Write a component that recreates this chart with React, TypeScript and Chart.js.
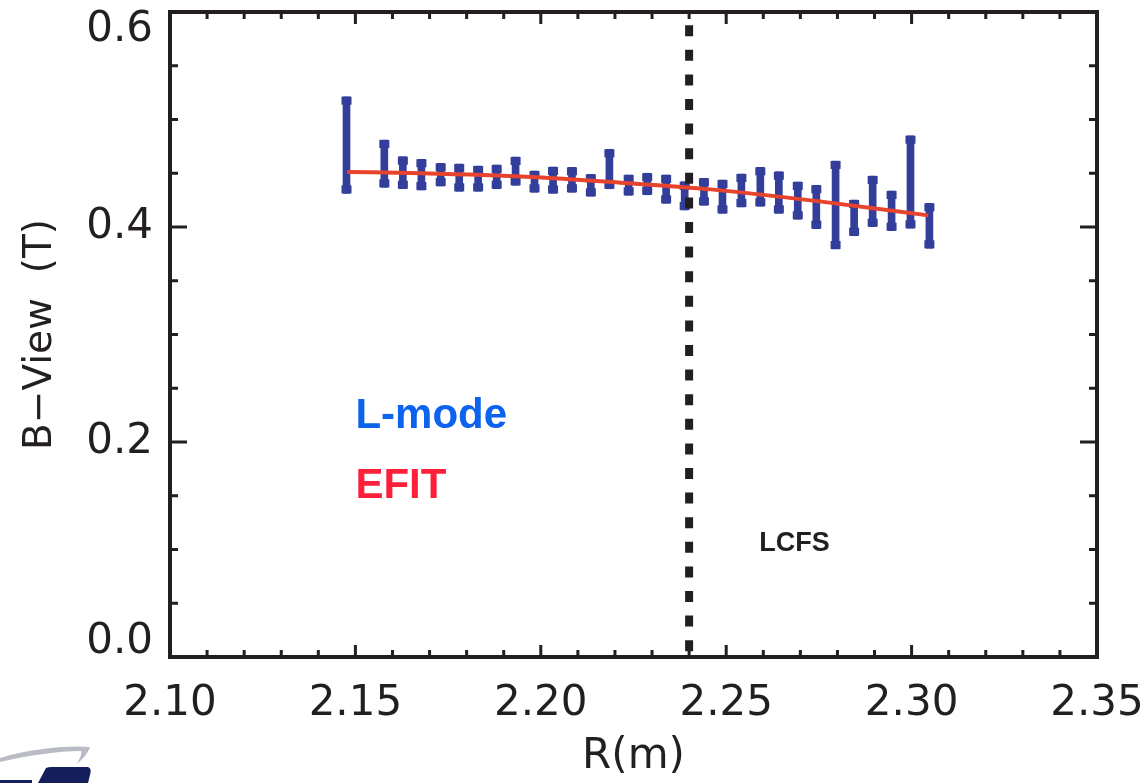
import React, { useEffect, useRef } from 'react';
import { Chart, registerables } from 'chart.js';

Chart.register(...registerables);

// ---- data ----
const radius = [2.1476, 2.1578, 2.1628, 2.1678, 2.173, 2.178, 2.1831, 2.1881, 2.1932, 2.1983, 2.2033, 2.2084, 2.2135, 2.2185, 2.2237, 2.2287, 2.2338, 2.2388, 2.244, 2.249, 2.2541, 2.2592, 2.2642, 2.2693, 2.2743, 2.2795, 2.2845, 2.2895, 2.2946, 2.2997, 2.3048];
const bLow = [0.4313, 0.4369, 0.4356, 0.4344, 0.4381, 0.4332, 0.4332, 0.4356, 0.4388, 0.4323, 0.4313, 0.4323, 0.4286, 0.4356, 0.4295, 0.43, 0.422, 0.4158, 0.4202, 0.4127, 0.4186, 0.4193, 0.4127, 0.4072, 0.3984, 0.3795, 0.3919, 0.4003, 0.3966, 0.3988, 0.3802];
const bHigh = [0.5212, 0.4809, 0.4654, 0.463, 0.4592, 0.4586, 0.4567, 0.4577, 0.4651, 0.4521, 0.4558, 0.4555, 0.449, 0.4723, 0.4484, 0.45, 0.4484, 0.4421, 0.4453, 0.4437, 0.4493, 0.4555, 0.4514, 0.4419, 0.4388, 0.4614, 0.4251, 0.4474, 0.4335, 0.4849, 0.422];

const efitR = [2.1478, 2.1678, 2.1973, 2.2216, 2.2459, 2.2757, 2.3045];
const efitB = [0.4512, 0.45, 0.4465, 0.4412, 0.435, 0.4236, 0.4108];

const lcfsR = 2.24;

const xTickMin = 2.1;
const xTickMax = 2.35;
const xTickStep = 0.05;
const yTickMin = 0;
const yTickMax = 0.6;
const yTickStep = 0.2;

const xTitle = 'R(m)';
const yTitle = 'B\u2212View  (T)';

const notes = [
  { text: 'L-mode', r: 2.15, b: 0.2235, color: '#0c63ee', font: "bold 42px 'Liberation Sans', Arial, sans-serif" },
  { text: 'EFIT', r: 2.15, b: 0.1584, color: '#fe1f3a', font: "bold 42px 'Liberation Sans', Arial, sans-serif" },
  { text: 'LCFS', r: 2.2589, b: 0.106, color: '#231f20', font: "bold 27px 'Liberation Sans', Arial, sans-serif" },
];

const INK = '#231f20';
const NAVY = '#333e9a';
const RED = '#e8432c';
const FAMILY = "'DejaVu Sans', sans-serif";

const framePlugin = {
  id: 'idlFrame',
  afterDatasetDraw(chart: any, args: any) {
    if (args.index !== 0) return;
    const ctx = chart.ctx;
    ctx.save();
    ctx.fillStyle = NAVY;
    args.meta.data.forEach((el: any) => {
      const top = Math.min(el.y, el.base);
      const bot = Math.max(el.y, el.base);
      ctx.fillRect(el.x - 5, top, 10, 8);
      ctx.fillRect(el.x - 5, bot - 8, 10, 8);
    });
    ctx.restore();
  },
  afterDatasetsDraw(chart: any) {
    const { ctx, chartArea, scales } = chart;
    const { left, right, top, bottom } = chartArea;
    const xs = scales.x;
    const ys = scales.y;
    ctx.save();

    // LCFS dashed line
    const lx = xs.getPixelForValue(lcfsR);
    ctx.strokeStyle = INK;
    ctx.lineWidth = 8;
    ctx.setLineDash([11, 13.6]);
    ctx.lineDashOffset = 11.4;
    ctx.beginPath();
    ctx.moveTo(lx, top);
    ctx.lineTo(lx, bottom);
    ctx.stroke();
    ctx.setLineDash([]);

    // annotations
    ctx.textAlign = 'left';
    ctx.textBaseline = 'middle';
    notes.forEach((n) => {
      ctx.font = n.font;
      ctx.fillStyle = n.color;
      ctx.fillText(n.text, xs.getPixelForValue(n.r), ys.getPixelForValue(n.b));
    });

    // frame
    ctx.strokeStyle = INK;
    ctx.lineWidth = 4;
    ctx.strokeRect(left, top, right - left, bottom - top);

    // x ticks (minor every 0.01, major every 0.05), inward, top and bottom
    ctx.lineWidth = 3;
    ctx.beginPath();
    for (let k = 1; k < 25; k++) {
      const v = (210 + k) / 100;
      const px = xs.getPixelForValue(v);
      const len = k % 5 === 0 ? 12 : 7;
      ctx.moveTo(px, bottom);
      ctx.lineTo(px, bottom - len);
      ctx.moveTo(px, top);
      ctx.lineTo(px, top + len);
    }
    // y ticks (minor every 0.05, major every 0.2), inward, left and right
    for (let k = 1; k < 12; k++) {
      const v = k / 20;
      const py = ys.getPixelForValue(v);
      const len = k % 4 === 0 ? 17 : 8;
      ctx.moveTo(left, py);
      ctx.lineTo(left + len, py);
      ctx.moveTo(right, py);
      ctx.lineTo(right - len, py);
    }
    ctx.stroke();
    ctx.restore();
  },
};

export default function App() {
  const ref = useRef<HTMLCanvasElement>(null);

  useEffect(() => {
    const canvas = ref.current;
    if (!canvas) return;
    const chart = new Chart(canvas, {
      type: 'bar',
      data: {
        datasets: [
          {
            type: 'bar',
            label: 'L-mode',
            data: radius.map((r, i) => ({ x: r, y: [bLow[i], bHigh[i]] })) as any,
            backgroundColor: NAVY,
            borderWidth: 0,
            barThickness: 7,
            order: 2,
          } as any,
          {
            type: 'line',
            label: 'EFIT',
            data: efitR.map((r, i) => ({ x: r, y: efitB[i] })),
            borderColor: RED,
            borderWidth: 4,
            pointRadius: 0,
            fill: false,
            cubicInterpolationMode: 'monotone',
            order: 1,
          } as any,
        ],
      },
      options: {
        responsive: false,
        animation: false,
        layout: { padding: { top: 12, right: 46, left: 0, bottom: 0 } },
        plugins: { legend: { display: false }, tooltip: { enabled: false } },
        scales: {
          x: {
            type: 'linear',
            min: xTickMin,
            max: xTickMax,
            offset: false,
            grid: { display: false, drawTicks: false },
            border: { display: false },
            ticks: {
              stepSize: xTickStep,
              autoSkip: false,
              maxRotation: 0,
              padding: 22,
              color: INK,
              font: { family: FAMILY, size: 42 },
              callback: (v: any) => Number(v).toFixed(2),
            },
            title: {
              display: true,
              text: xTitle,
              color: INK,
              font: { family: FAMILY, size: 42 },
              padding: { top: 0, bottom: 1 },
            },
            afterFit: (s: any) => {
              s.height = 126;
              s.paddingLeft = 0;
              s.paddingRight = 0;
            },
          },
          y: {
            type: 'linear',
            min: yTickMin,
            max: yTickMax,
            grid: { display: false, drawTicks: false },
            border: { display: false },
            ticks: {
              stepSize: yTickStep,
              autoSkip: false,
              padding: 17,
              color: INK,
              font: (c: any) => {
                const v = c.tick ? c.tick.value : 0.3;
                let lh: any = 1.2;
                if (Math.abs(v - yTickMin) < 1e-9) lh = '30px';
                if (Math.abs(v - yTickMax) < 1e-9) lh = '36px';
                return { family: FAMILY, size: 42, lineHeight: lh };
              },
              callback: (v: any) => {
                const n = Number(v);
                const s = n.toFixed(1);
                if (Math.abs(n - yTickMin) < 1e-9) return [s, ''];
                if (Math.abs(n - yTickMax) < 1e-9) return ['', s];
                return s;
              },
            },
            title: {
              display: true,
              text: yTitle,
              color: INK,
              font: { family: FAMILY, size: 39 },
              padding: { top: 17, bottom: 0 },
            },
            afterFit: (s: any) => {
              s.width = 170;
              s.paddingTop = 0;
              s.paddingBottom = 0;
            },
          },
        },
      } as any,
      plugins: [framePlugin],
    });
    return () => chart.destroy();
  }, []);

  return (
    <div style={{ position: 'absolute', left: 0, top: 0, width: 1143, height: 783, background: '#ffffff', overflow: 'hidden' }}>
      <canvas ref={ref} width={1143} height={783} style={{ display: 'block' }} />
      <svg width="100" height="40" viewBox="0 0 100 40" style={{ position: 'absolute', left: 0, top: 743 }}>
        <path d="M0,15 C30,6 65,2 90,4 C88,10 83,16 77,21 C80,15 82,11 81,8 C58,8 30,12 0,19 Z" fill="#b9bcc4" />
        <path d="M38,40 L46,25 Q48,24 52,24 L88,24 Q92,25 90,32 L88,40 Z" fill="#141f5c" />
        <rect x="0" y="37" width="32" height="3" fill="#141f5c" />
      </svg>
    </div>
  );
}
